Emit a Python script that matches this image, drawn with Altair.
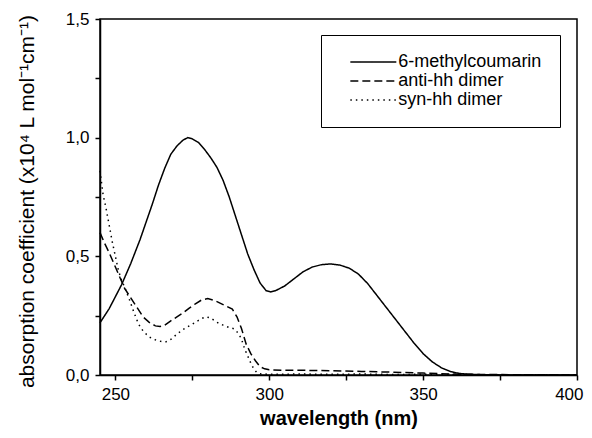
import altair as alt
import pandas as pd

series_names = ["6-methylcoumarin", "anti-hh dimer", "syn-hh dimer"]

coumarin_nm = [245, 248, 250, 252, 255, 258, 260, 262, 264, 266, 268, 270, 272, 273.5, 275, 277, 279, 281, 283, 285,
               287, 289, 291, 293, 295, 297, 299, 300.5, 302, 305, 308, 311, 314, 317, 320, 323, 326, 329, 332, 335,
               338, 341, 344, 347, 350, 353, 356, 359, 362, 365, 370, 380, 390, 400]
coumarin_val = [0.22, 0.28, 0.33, 0.38, 0.47, 0.57, 0.645, 0.72, 0.80, 0.87, 0.93, 0.965, 0.99, 1.0, 0.995, 0.98, 0.95,
                0.915, 0.875, 0.82, 0.75, 0.67, 0.59, 0.51, 0.445, 0.388, 0.355, 0.35, 0.355, 0.375, 0.405, 0.435,
                0.455, 0.465, 0.468, 0.463, 0.45, 0.425, 0.385, 0.335, 0.285, 0.235, 0.185, 0.135, 0.09, 0.055, 0.03,
                0.014, 0.006, 0.003, 0.001, 0.0, 0.0, 0.0]

anti_nm = [245, 246.5, 248, 250, 251.5, 253, 255, 257, 259, 261, 263, 264.5, 266, 268, 270, 272, 274, 276, 278, 280,
           282, 284, 286, 288, 289.5, 291, 292.5, 294, 295.5, 297, 298.5, 300, 305, 310, 320, 330, 340, 350, 360, 370,
           400]
anti_val = [0.60, 0.555, 0.515, 0.455, 0.41, 0.365, 0.325, 0.285, 0.245, 0.222, 0.207, 0.204, 0.21, 0.228, 0.245,
            0.262, 0.282, 0.30, 0.316, 0.322, 0.315, 0.303, 0.29, 0.278, 0.245, 0.195, 0.13, 0.09, 0.06, 0.035, 0.026,
            0.022, 0.02, 0.02, 0.018, 0.015, 0.012, 0.008, 0.004, 0.002, 0.0]

syn_nm = [245, 246, 247, 248, 249, 250, 251, 252, 253, 254.5, 256, 257.5, 259, 261, 263, 265, 266.5, 268, 270, 272,
          274, 276, 278, 279.5, 281, 283, 285, 287, 288.5, 290, 291, 292, 293, 294, 295, 296, 297, 300, 310, 320, 330,
          340, 350, 360, 370, 380, 390, 400]
syn_val = [0.86, 0.76, 0.70, 0.63, 0.56, 0.50, 0.44, 0.40, 0.37, 0.32, 0.265, 0.215, 0.185, 0.16, 0.148, 0.141, 0.14,
           0.15, 0.172, 0.192, 0.207, 0.222, 0.238, 0.245, 0.24, 0.222, 0.21, 0.2, 0.195, 0.175, 0.15, 0.11, 0.08,
           0.05, 0.025, 0.01, 0.005, 0.003, 0.004, 0.003, 0.004, 0.002, 0.003, 0.002, 0.001, 0.001, 0.001, 0.0]

x_ticks = [250, 275, 300, 325, 350, 375, 400]
y_ticks = [0, 0.25, 0.5, 0.75, 1.0, 1.25, 1.5]

rows = []
for name, xs, ys in zip(series_names, [coumarin_nm, anti_nm, syn_nm], [coumarin_val, anti_val, syn_val]):
    for x, y in zip(xs, ys):
        rows.append({"series": name, "nm": x, "abs": y})
df = pd.DataFrame(rows)

FONT = "Liberation Sans"

chart = alt.Chart(df).mark_line(color="black", strokeWidth=1.5).encode(
    x=alt.X("nm:Q",
            scale=alt.Scale(domain=[245, 400], nice=False, zero=False),
            axis=alt.Axis(values=x_ticks, title="wavelength (nm)",
                          labelExpr="datum.value % 50 == 0 ? datum.label : ''",
                          format="d", titlePadding=6, labelFlush=True, labelFlushOffset=6)),
    y=alt.Y("abs:Q",
            scale=alt.Scale(domain=[0, 1.5], nice=False),
            axis=alt.Axis(values=y_ticks,
                          title="absorption coefficient (x10⁴ L mol⁻¹cm⁻¹)",
                          labelExpr="(datum.value * 2) % 1 == 0 ? replace(format(datum.value, '.1f'), '.', ',') : ''",
                          titlePadding=28, titleY=182, labelFlush=False)),
    strokeDash=alt.StrokeDash("series:N",
                              scale=alt.Scale(domain=series_names, range=[[1, 0], [8, 4], [1.5, 4]]),
                              legend=alt.Legend(title=None, orient="none", legendX=221, legendY=16,
                                                strokeColor="black", fillColor="white", padding=18,
                                                symbolType="M-3,0H3", symbolSize=235, symbolOffset=25.33,
                                                symbolStrokeWidth=1.5, symbolStrokeColor="black",
                                                labelOffset=16, labelFontSize=18, labelFont=FONT,
                                                labelColor="black", rowPadding=1)),
).properties(
    width=477, height=356,
    autosize=alt.AutoSizeParams(type="none"),
    padding={"left": 92, "top": 11, "right": 7, "bottom": 55},
).configure_view(
    stroke="black", strokeWidth=1.5
).configure_axis(
    grid=False, domainColor="black", domainWidth=1.5, tickColor="black", tickWidth=1.5, tickSize=5,
    labelFont=FONT, labelFontSize=17, labelColor="black", labelPadding=6,
    titleFont=FONT, titleFontSize=21, titleColor="black", titleFontWeight="normal",
).configure_axisX(
    titleFontWeight="bold", titleFontSize=20
)

chart.save("out.html", embed_options={"renderer": "svg", "actions": False})
